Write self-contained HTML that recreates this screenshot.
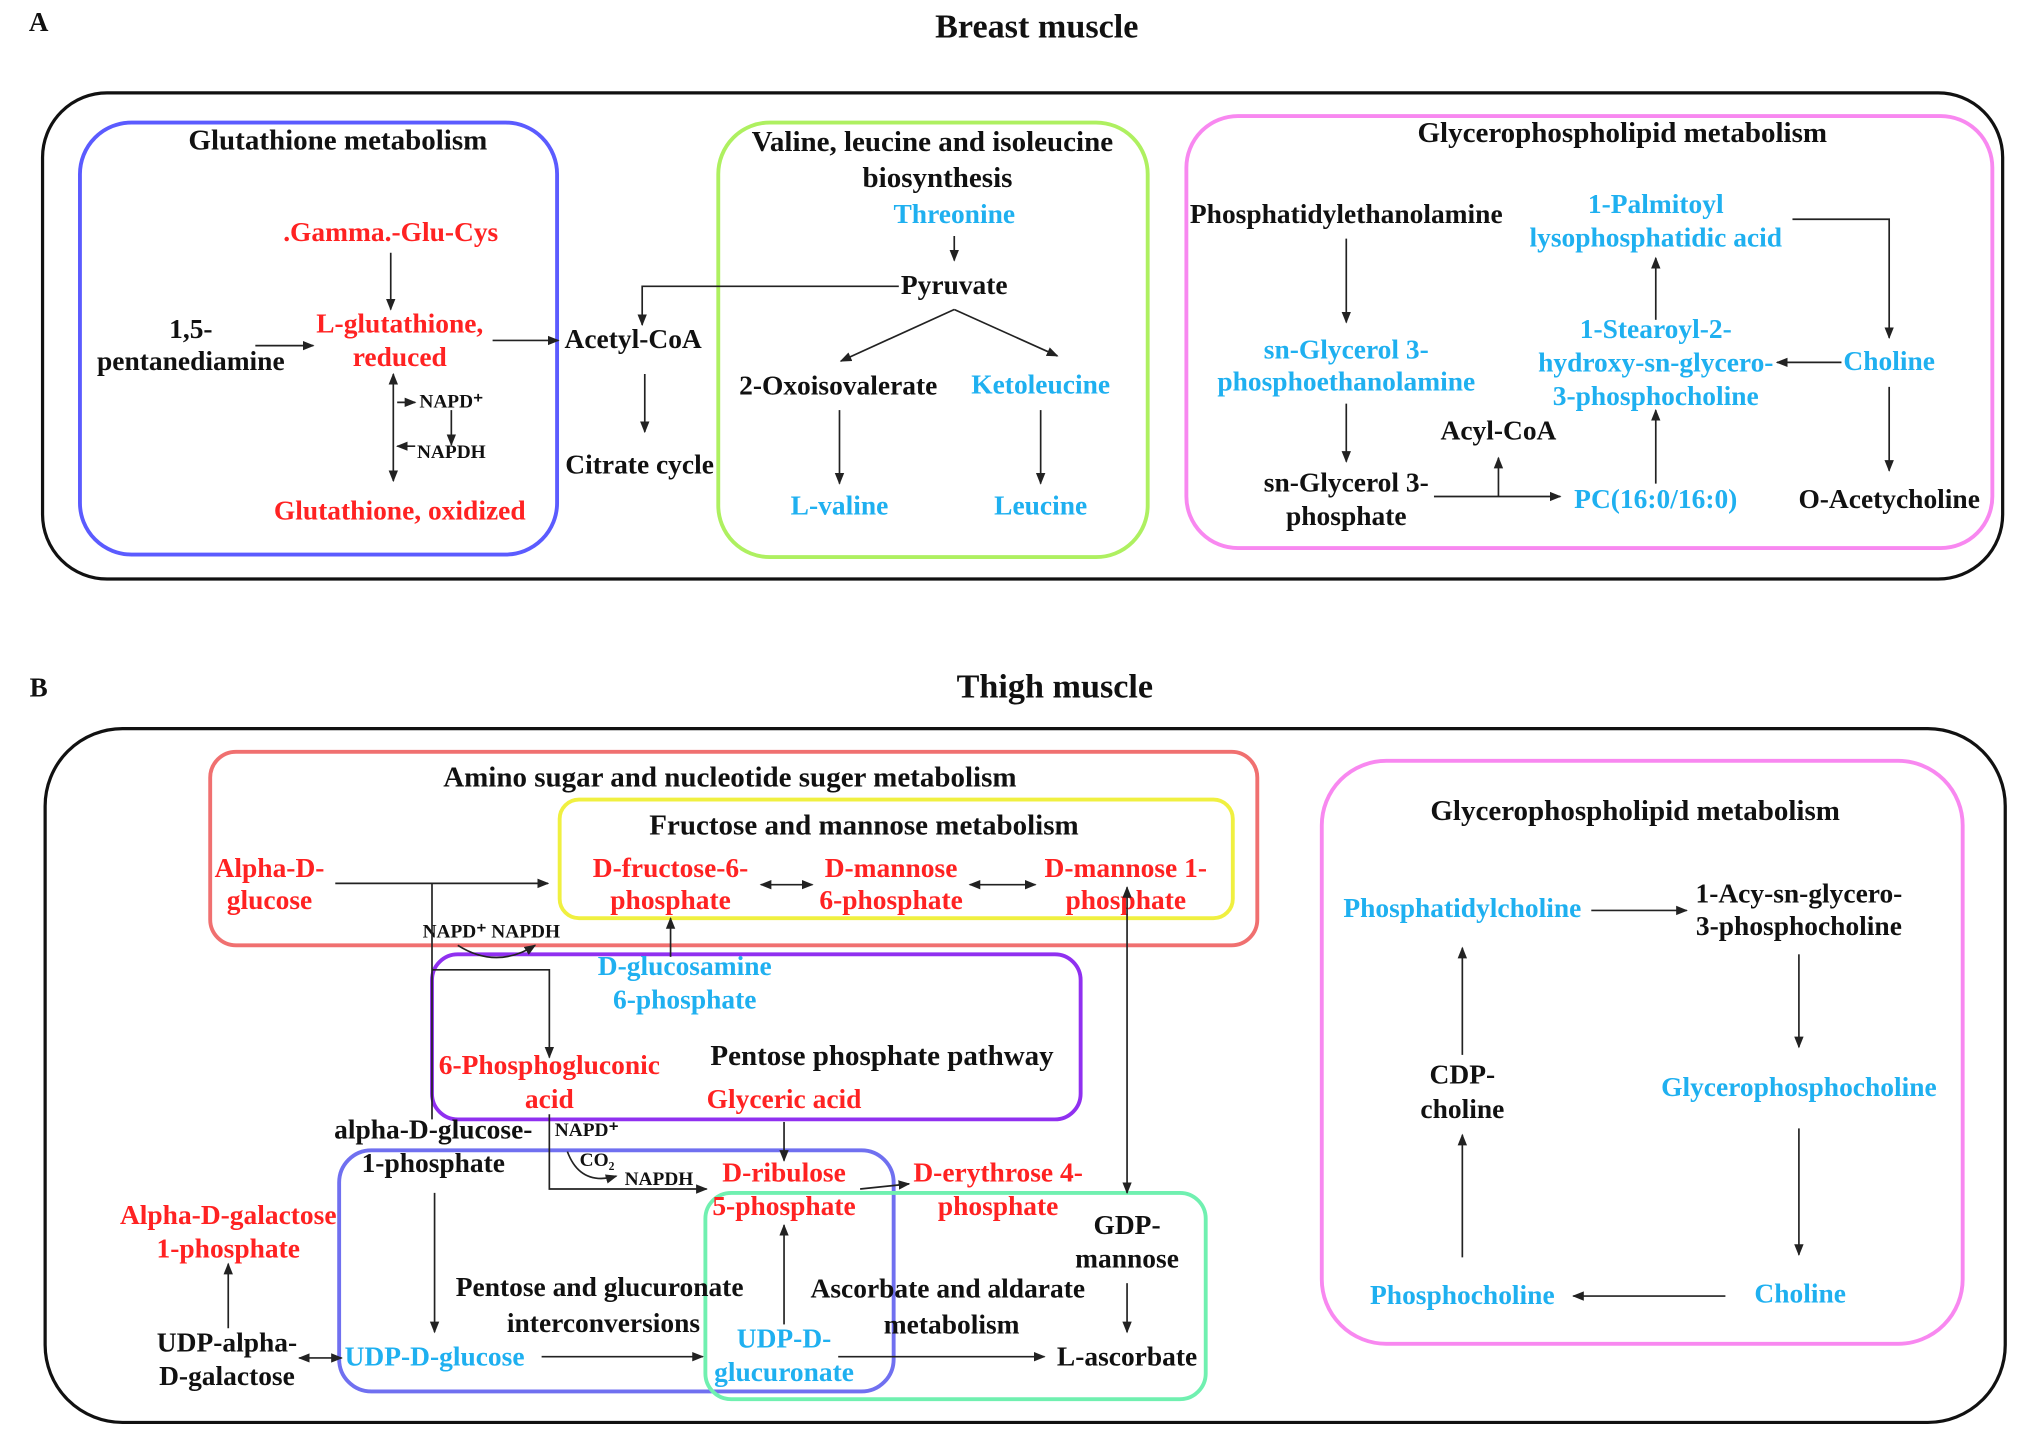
<!DOCTYPE html>
<html><head><meta charset="utf-8"><style>
html,body{margin:0;padding:0;background:#fff}
svg{display:block}
text{font-family:"Liberation Serif",serif;font-weight:bold;font-size:21.3px;text-anchor:middle;fill:#111}
.r{fill:#ff2222}.b{fill:#1fb0f0}.t{font-size:22.5px}.s{font-size:15px}
.l{stroke:#222;stroke-width:1.3;fill:none}
</style></head><body>
<svg width="2022" height="1445" viewBox="0 0 1568 1120.5" preserveAspectRatio="none" xmlns="http://www.w3.org/2000/svg">
<defs><marker id="a" viewBox="0 0 10 10" refX="9" refY="5" markerWidth="7" markerHeight="7" orient="auto-start-reverse"><path d="M0,1 L10,5 L0,9z" fill="#222"/></marker></defs>
<!-- Panel A -->
<text x="30" y="24" style="font-size:21px">A</text>
<text x="804" y="29" style="font-size:26.5px">Breast muscle</text>
<rect x="33" y="72" width="1520" height="377" rx="50" fill="none" stroke="#111" stroke-width="2.5"/>
<rect x="62" y="95" width="370" height="335" rx="40" fill="none" stroke="#5b5bff" stroke-width="3"/>
<rect x="557" y="95" width="333" height="337" rx="40" fill="none" stroke="#aef060" stroke-width="3"/>
<rect x="920" y="90" width="625" height="335" rx="40" fill="none" stroke="#f888f0" stroke-width="3"/>
<text x="262" y="116" class="t">Glutathione metabolism</text>
<text x="303" y="187" class="r">.Gamma.-Glu-Cys</text>
<text x="148" y="262">1,5-</text><text x="148" y="287">pentanediamine</text>
<text x="310" y="258" class="r">L-glutathione,</text><text x="310" y="284" class="r">reduced</text>
<text x="350" y="316" class="s">NAPD⁺</text><text x="350" y="355" class="s">NAPDH</text>
<text x="310" y="403" class="r">Glutathione, oxidized</text>
<path class="l" d="M303,196V240" marker-end="url(#a)"/>
<path class="l" d="M198,268H243" marker-end="url(#a)"/>
<path class="l" d="M382,264H433" marker-end="url(#a)"/>
<path class="l" d="M305,290V373" marker-start="url(#a)" marker-end="url(#a)"/>
<path class="l" d="M308,312H322"  marker-end="url(#a)"/><path class="l" d="M350,318V345" marker-end="url(#a)"/><path class="l" d="M322,346H308" marker-end="url(#a)"/>
<text x="491" y="270">Acetyl-CoA</text><text x="496" y="367">Citrate cycle</text>
<path class="l" d="M500,290V335" marker-end="url(#a)"/>
<text x="723" y="117" class="t">Valine, leucine and isoleucine</text><text x="727" y="145" class="t">biosynthesis</text>
<text x="740" y="173" class="b">Threonine</text>
<path class="l" d="M740,183V202" marker-end="url(#a)"/>
<text x="740" y="228">Pyruvate</text>
<path class="l" d="M697,222H498V252" marker-end="url(#a)"/>
<path class="l" d="M740,240L652,280" marker-end="url(#a)"/><path class="l" d="M740,240L820,276" marker-end="url(#a)"/>
<text x="650" y="306">2-Oxoisovalerate</text><text x="807" y="305" class="b">Ketoleucine</text>
<path class="l" d="M651,318V375" marker-end="url(#a)"/><path class="l" d="M807,318V375" marker-end="url(#a)"/>
<text x="651" y="399" class="b">L-valine</text><text x="807" y="399" class="b">Leucine</text>
<text x="1258" y="110" class="t">Glycerophospholipid metabolism</text>
<text x="1044" y="173">Phosphatidylethanolamine</text>
<text x="1284" y="165" class="b">1-Palmitoyl</text><text x="1284" y="191" class="b">lysophosphatidic acid</text>
<path class="l" d="M1390,170H1465V262" marker-end="url(#a)"/>
<path class="l" d="M1044,185V250" marker-end="url(#a)"/>
<text x="1044" y="278" class="b">sn-Glycerol 3-</text><text x="1044" y="303" class="b">phosphoethanolamine</text>
<text x="1284" y="262" class="b">1-Stearoyl-2-</text><text x="1284" y="288" class="b">hydroxy-sn-glycero-</text><text x="1284" y="314" class="b">3-phosphocholine</text>
<path class="l" d="M1284,248V200" marker-end="url(#a)"/>
<text x="1465" y="287" class="b">Choline</text>
<path class="l" d="M1428,281H1378" marker-end="url(#a)"/>
<path class="l" d="M1465,300V365" marker-end="url(#a)"/>
<text x="1162" y="341">Acyl-CoA</text>
<path class="l" d="M1044,313V358" marker-end="url(#a)"/>
<text x="1044" y="381">sn-Glycerol 3-</text><text x="1044" y="407">phosphate</text>
<path class="l" d="M1112,385H1210" marker-end="url(#a)"/><path class="l" d="M1162,385V355" marker-end="url(#a)"/>
<text x="1284" y="394" class="b">PC(16:0/16:0)</text>
<path class="l" d="M1284,375V318" marker-end="url(#a)"/>
<text x="1465" y="394">O-Acetycholine</text>
<!-- Panel B -->
<text x="30" y="540" style="font-size:21px">B</text>
<text x="818" y="541" style="font-size:26.5px">Thigh muscle</text>
<rect x="35" y="565" width="1520" height="538" rx="60" fill="none" stroke="#111" stroke-width="2.5"/>
<rect x="163" y="583" width="812" height="150" rx="20" fill="none" stroke="#f07070" stroke-width="3"/>
<rect x="434" y="620" width="522" height="92" rx="15" fill="none" stroke="#f0f040" stroke-width="3"/>
<rect x="335" y="740" width="503" height="128" rx="20" fill="none" stroke="#9030f0" stroke-width="3"/>
<rect x="263" y="892" width="430" height="187" rx="25" fill="none" stroke="#7070f0" stroke-width="3"/>
<rect x="547" y="925" width="388" height="160" rx="20" fill="none" stroke="#70f0b0" stroke-width="3"/>
<rect x="1025" y="590" width="497" height="452" rx="50" fill="none" stroke="#f888f0" stroke-width="3"/>
<text x="566" y="610" class="t">Amino sugar and nucleotide suger metabolism</text>
<text x="670" y="647" class="t">Fructose and  mannose metabolism</text>
<text x="209" y="680" class="r">Alpha-D-</text><text x="209" y="705" class="r">glucose</text>
<text x="520" y="680" class="r">D-fructose-6-</text><text x="520" y="705" class="r">phosphate</text>
<text x="691" y="680" class="r">D-mannose</text><text x="691" y="705" class="r">6-phosphate</text>
<text x="873" y="680" class="r">D-mannose 1-</text><text x="873" y="705" class="r">phosphate</text>
<path class="l" d="M260,685H425" marker-end="url(#a)"/>
<path class="l" d="M590,686H630" marker-start="url(#a)" marker-end="url(#a)"/>
<path class="l" d="M752,686H803" marker-start="url(#a)" marker-end="url(#a)"/>
<text x="381" y="727" class="s">NAPD⁺ NAPDH</text>
<path class="l" d="M355,733Q385,752 415,733" marker-end="url(#a)"/>
<text x="531" y="756" class="b">D-glucosamine</text><text x="531" y="782" class="b">6-phosphate</text>
<path class="l" d="M520,742V712" marker-end="url(#a)"/>
<text x="426" y="833" class="r">6-Phosphogluconic</text><text x="426" y="859" class="r">acid</text>
<text x="684" y="826" class="t">Pentose  phosphate pathway</text>
<text x="608" y="859" class="r">Glyceric acid</text>
<text x="336" y="883">alpha-D-glucose-</text><text x="336" y="909">1-phosphate</text>
<path class="l" d="M335,685V868"/>
<path class="l" d="M335,752H426V820" marker-end="url(#a)"/>
<path class="l" d="M337,925V1033" marker-end="url(#a)"/>
<path class="l" d="M426,864V922H548" marker-end="url(#a)"/>
<text x="455" y="881" class="s">NAPD⁺</text><text x="463" y="904" class="s">CO₂</text><text x="511" y="919" class="s">NAPDH</text>
<path class="l" d="M440,893Q450,920 478,912" marker-end="url(#a)"/>
<text x="608" y="916" class="r">D-ribulose</text><text x="608" y="942" class="r">5-phosphate</text>
<text x="774" y="916" class="r">D-erythrose 4-</text><text x="774" y="942" class="r">phosphate</text>
<path class="l" d="M608,870V900" marker-end="url(#a)"/>
<path class="l" d="M667,922L705,918" marker-end="url(#a)"/>
<path class="l" d="M874,688V925" marker-start="url(#a)" marker-end="url(#a)"/>
<text x="874" y="957">GDP-</text><text x="874" y="983">mannose</text>
<path class="l" d="M874,995V1033" marker-end="url(#a)"/>
<text x="177" y="949" class="r">Alpha-D-galactose</text><text x="177" y="975" class="r">1-phosphate</text>
<text x="465" y="1005">Pentose and glucuronate</text><text x="468" y="1033">interconversions</text>
<text x="735" y="1006">Ascorbate and aldarate</text><text x="738" y="1034">metabolism</text>
<text x="176" y="1048">UDP-alpha-</text><text x="176" y="1074">D-galactose</text>
<text x="337" y="1059" class="b">UDP-D-glucose</text>
<text x="608" y="1045" class="b">UDP-D-</text><text x="608" y="1071" class="b">glucuronate</text>
<text x="874" y="1059">L-ascorbate</text>
<path class="l" d="M608,1027V950" marker-end="url(#a)"/>
<path class="l" d="M420,1052H545" marker-end="url(#a)"/>
<path class="l" d="M650,1052H810" marker-end="url(#a)"/>
<path class="l" d="M232,1053H265" marker-start="url(#a)" marker-end="url(#a)"/>
<path class="l" d="M177,1030V980" marker-end="url(#a)"/>
<text x="1268" y="636" class="t">Glycerophospholipid metabolism</text>
<text x="1134" y="711" class="b">Phosphatidylcholine</text>
<path class="l" d="M1234,706H1308" marker-end="url(#a)"/>
<text x="1395" y="700">1-Acy-sn-glycero-</text><text x="1395" y="725">3-phosphocholine</text>
<path class="l" d="M1395,740V812" marker-end="url(#a)"/>
<text x="1395" y="850" class="b">Glycerophosphocholine</text>
<path class="l" d="M1395,875V973" marker-end="url(#a)"/>
<text x="1396" y="1010" class="b">Choline</text>
<path class="l" d="M1338,1005H1220" marker-end="url(#a)"/>
<text x="1134" y="1011" class="b">Phosphocholine</text>
<path class="l" d="M1134,975V880" marker-end="url(#a)"/>
<text x="1134" y="840">CDP-</text><text x="1134" y="867">choline</text>
<path class="l" d="M1134,818V735" marker-end="url(#a)"/>
</svg>
</body></html>
